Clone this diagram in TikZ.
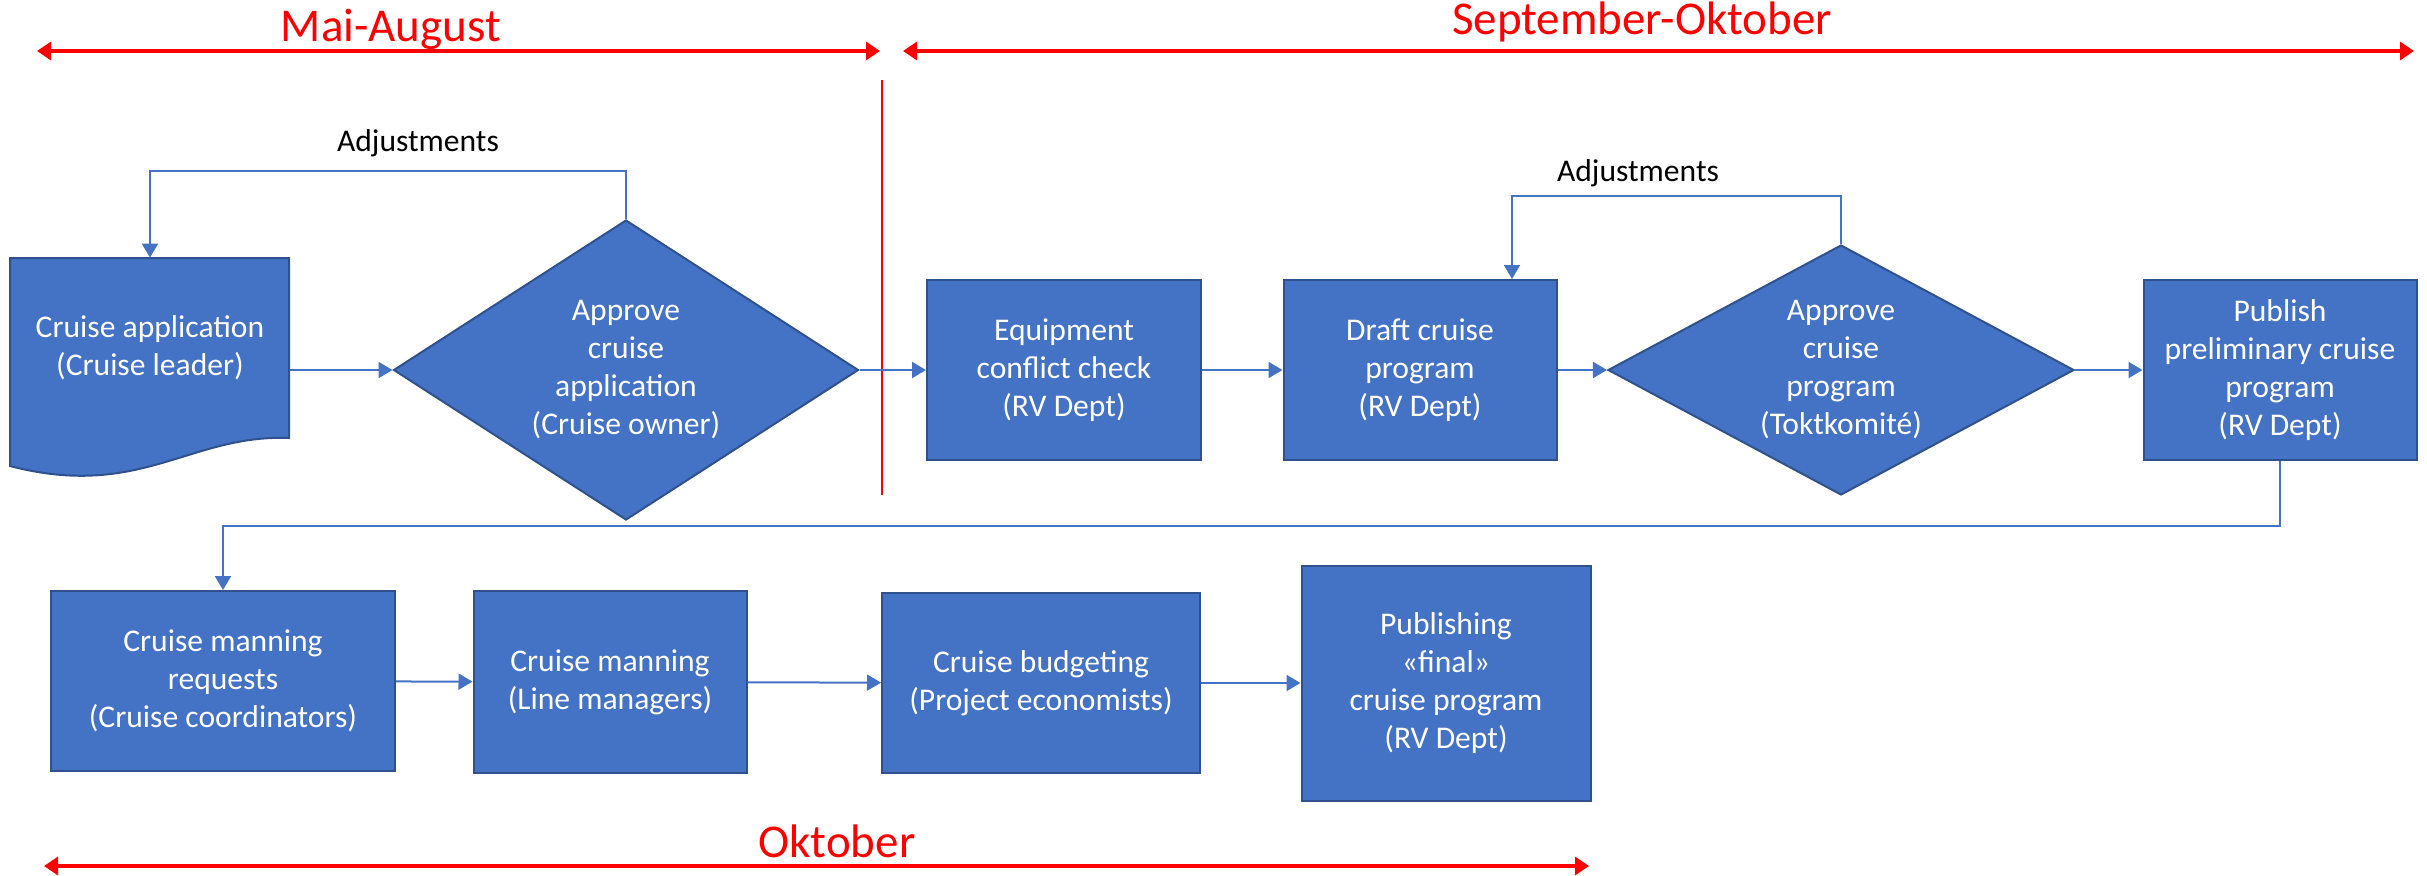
\documentclass[tikz,border=0pt]{standalone}
\usepackage{fontspec}
\setmainfont{Carlito}
\usetikzlibrary{arrows.meta,shapes.geometric}

\definecolor{boxblue}{HTML}{4472C4}
\definecolor{boxedge}{HTML}{2F528F}

\tikzset{
  stepbox/.style={rectangle,fill=boxblue,draw=boxedge,line width=1pt,text=white,
    align=center,inner sep=0pt,font=\fontsize{15.8}{19}\selectfont},
  decide/.style={diamond,fill=boxblue,draw=boxedge,line width=1pt,text=white,
    align=center,inner sep=0pt,font=\fontsize{15.8}{19}\selectfont},
  flow/.style={draw=boxblue,line width=1pt,-{Triangle[width=8pt,length=7pt]}},
  period/.style={red,line width=1.6pt,
    {Triangle[width=9pt,length=7pt]}-{Triangle[width=9pt,length=7pt]}},
  periodlabel/.style={text=red,font=\fontsize{23.5}{28}\selectfont},
  note/.style={font=\fontsize{15.8}{19}\selectfont}
}

\begin{document}
\begin{tikzpicture}[x=0.5pt,y=-0.5pt]
\useasboundingbox (0,0) rectangle (2427,875);

\coordinate (maiS) at (37,51);
\coordinate (maiE) at (880,51);
\coordinate (sepS) at (903,51);
\coordinate (sepE) at (2414,51);
\coordinate (oktS) at (44,866);
\coordinate (oktE) at (1589,866);
\draw[period] (maiS) -- (maiE);
\draw[period] (sepS) -- (sepE);
\draw[period] (oktS) -- (oktE);
\node[periodlabel] (mai) at (391,29) {Mai-August};
\node[periodlabel] (sep) at (1642,22) {September-Oktober};
\node[periodlabel] (okt) at (837,841) {Oktober};

\coordinate (splitT) at (882,80);
\coordinate (splitB) at (882,495);
\draw[red,line width=0.6pt] (splitT) -- (splitB);

\path[fill=boxblue,draw=boxedge,line width=1pt] (10,258) -- (289,258) -- (289,438)
  .. controls (190,434) and (140,500) .. (10,466) -- cycle;
\node[note,text=white,align=center,minimum width=139.5pt,minimum height=90pt,inner sep=0pt] (app) at (150,348) {Cruise application\\(Cruise leader)};

\node[decide,shape aspect=1.55,minimum width=232.5pt,minimum height=150pt] (dia1) at (626,370) {Approve\\cruise\\application\\(Cruise owner)};
\node[stepbox,minimum width=137pt,minimum height=90pt] (eq) at (1064,370) {Equipment\\conflict check\\(RV Dept)};
\node[stepbox,minimum width=136.5pt,minimum height=90pt] (draft) at (1420,370) {Draft cruise\\program\\(RV Dept)};
\node[decide,shape aspect=1.86,minimum width=233pt,minimum height=125pt] (dia2) at (1841,370) {Approve\\cruise\\program\\(Toktkomité)};
\node[stepbox,minimum width=136.5pt,minimum height=90pt] (pub) at (2280,370) {Publish\\preliminary cruise\\program\\(RV Dept)};

\node[stepbox,minimum width=172pt,minimum height=90pt] (cmr) at (223,681) {Cruise manning\\requests\\(Cruise coordinators)};
\node[stepbox,minimum width=136.5pt,minimum height=91pt] (cm) at (610,682) {Cruise manning\\(Line managers)};
\node[stepbox,minimum width=159pt,minimum height=90pt] (cb) at (1041,683) {Cruise budgeting\\(Project economists)};
\node[stepbox,minimum width=144.5pt,minimum height=117.5pt] (pf) at (1446,683) {Publishing\\«final»\\cruise program\\(RV Dept)};

\node[note] (adj1) at (418,143) {Adjustments};
\node[note] (adj2) at (1638,173) {Adjustments};

\draw[flow] (app.east |- dia1.west) -- (dia1.west);
\draw[flow] (dia1.north) -- ++(0,-48) -| (app.north);
\draw[flow] (dia1.east) -- (eq.west);
\draw[flow] (eq) -- (draft);
\draw[flow] (draft) -- (dia2);
\draw[flow] (dia2.north) -- ++(0,-48) -| ([xshift=46pt]draft.north);
\draw[flow] (dia2) -- (pub);
\draw[flow] (pub.south) -- ++(0,65) -| (cmr.north);
\draw[flow] (cmr) -- (cm);
\draw[flow] (cm) -- (cb);
\draw[flow] (cb) -- (pf);
\end{tikzpicture}
\end{document}
